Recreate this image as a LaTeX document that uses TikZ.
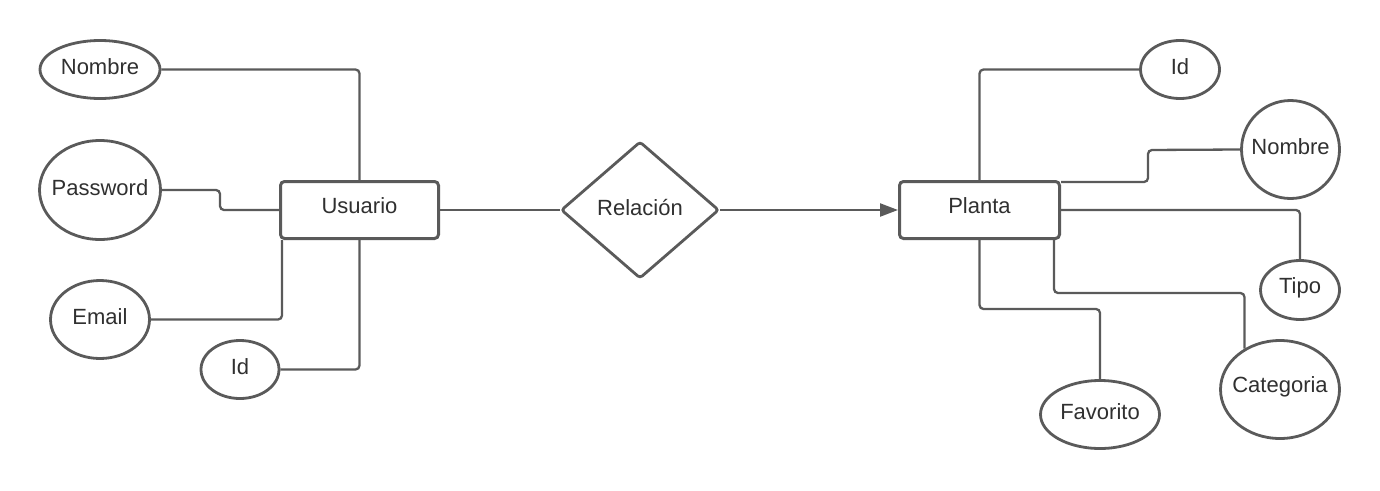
\documentclass[tikz,border=0pt]{standalone}
\usepackage{fontspec}
\setmainfont{Liberation Sans}
\usetikzlibrary{shapes.geometric,arrows.meta}
\definecolor{edge}{HTML}{5A5A5A}
\definecolor{ink}{HTML}{303030}
\begin{document}
\begin{tikzpicture}[x=1pt,y=-1pt,
  every node/.style={font=\fontsize{22}{26}\selectfont, text=ink},
  attr/.style={ellipse, draw=edge, line width=2.8pt, fill=white, inner sep=0pt,
    label={[yshift=2.5pt]center:#1}},
  entity/.style={rectangle, rounded corners=4pt, draw=edge, line width=3pt, fill=white, inner sep=0pt,
    label={[yshift=4pt]center:#1}},
  rel/.style={diamond, rounded corners=3pt, draw=edge, line width=2.8pt, fill=white, inner sep=0pt,
    label={[yshift=2pt]center:#1}},
  link/.style={draw=edge, line width=2.3pt, rounded corners=4pt}]
\useasboundingbox (0,0) rectangle (1380,490);

% entities and relationship
\node[entity=Usuario, minimum width=158pt, minimum height=57pt] (usr) at (359.5,210) {};
\node[entity=Planta, minimum width=160pt, minimum height=57pt] (pl) at (979.5,210) {};
\node[rel=Relación, minimum width=158pt, minimum height=137pt] (rel) at (640,210) {};

% attributes of Usuario
\node[attr=Nombre, minimum width=120pt, minimum height=58pt] (unom) at (100,69.5) {};
\node[attr=Password, minimum width=121pt, minimum height=99pt] (upw) at (100,190) {};
\node[attr=Email, minimum width=99pt, minimum height=78pt] (uem) at (100,319.5) {};
\node[attr=Id, minimum width=78pt, minimum height=58pt] (uid) at (240,369.5) {};

% attributes of Planta
\node[attr=Id, minimum width=79pt, minimum height=58pt] (pid) at (1180,69.5) {};
\node[attr=Nombre, minimum width=98pt, minimum height=98pt] (pnom) at (1290.5,149.5) {};
\node[attr=Tipo, minimum width=79pt, minimum height=59pt] (ptip) at (1300,290) {};
\node[attr=Categoria, minimum width=119pt, minimum height=98pt] (pcat) at (1280,389.5) {};
\node[attr=Favorito, minimum width=119pt, minimum height=68pt] (pfav) at (1100,414.5) {};

% Usuario connectors
\draw[link] (unom.east) -| (usr.north);
\draw[link] (upw.east) -- (220,190) -- (220,210) -- (usr.west);
\draw[link] (uem.east) -| ([xshift=3pt]usr.south west);
\draw[link] (uid.east) -| (usr.south);

% relationship connectors
\draw[link] (usr.east) -- (rel.west);
\draw[link, -{Triangle[length=18pt,width=13pt]}] (rel.east) -- (pl.west);

% Planta connectors
\draw[link] (pid.west) -| (pl.north);
\draw[link] (pnom.west) -- (1148,150) -- (1148,182) -- ([yshift=-2pt]pl.north east);
\draw[link] (pl.east) -| (ptip.north);
\draw[link] ([xshift=-7pt]pl.south east) -- ++(0,53) -| (pcat.131);
\draw[link] (pl.south) -- ++(0,69) -| (pfav.north);
\end{tikzpicture}
\end{document}
